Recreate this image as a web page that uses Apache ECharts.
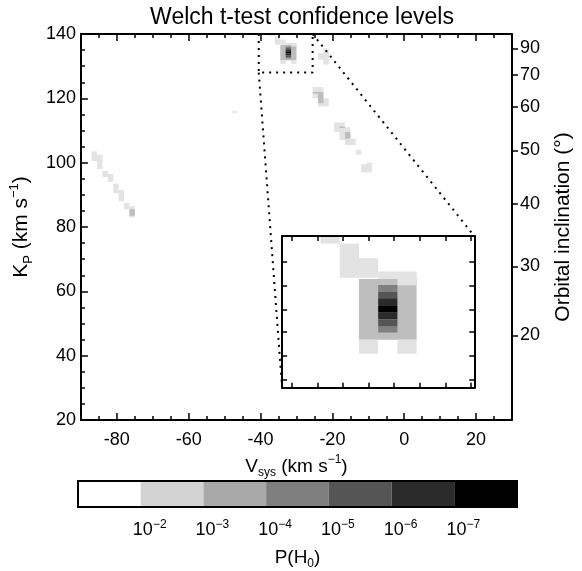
<!DOCTYPE html>
<html><head><meta charset="utf-8">
<script src="https://cdn.jsdelivr.net/npm/echarts@6/dist/echarts.min.js"></script>
<style>html,body{margin:0;padding:0;background:#fff}#c{width:582px;height:571px}</style>
</head><body><div id="c"></div>
<script>
// ---------- data ----------
const vsysMajorTicks = [-80, -60, -40, -20, 0, 20];
const inclinationTicks = [90, 70, 60, 50, 40, 30, 20];
const kpEdgeOn = 135.5;               // Kp at i = 90 deg
// significance blocks: [vsysMin, vsysMax, kpMin, kpMax, level]  (level 1 = 1e-2 ... 6 = 1e-7)
const leftTrackBlocks = [
  [-87, -85.5, 100.5, 103.5, 1],
  [-85.5, -84, 98, 102.5, 1],
  [-84, -82.5, 95.5, 97.5, 1],
  [-82.5, -81, 94, 96.5, 1],
  [-81, -79.5, 90.5, 93.5, 1],
  [-79.5, -78, 88, 91.5, 1],
  [-78, -76.5, 85.5, 87.5, 1],
  [-76.5, -75, 83, 86.5, 1],
  [-76.5, -75, 83.5, 85.5, 2]
];
const isolatedBlocks = [
  [-48, -46.5, 115.5, 116, 1]
];
const peakBlocks = [
  [-37.5, -36, 139.4, 141, 1],
  [-36, -34.5, 136.7, 139.4, 1],
  [-34.5, -33, 136.7, 138.25, 1],
  [-33, -30, 136.1, 137.2, 1],
  [-34.5, -30, 131.8, 136.6, 2],
  [-31.5, -30, 136.1, 136.6, 1],
  [-33, -31.5, 135.6, 136.13, 3],
  [-33, -31.5, 135.08, 135.6, 4],
  [-33, -31.5, 134.47, 135.08, 5],
  [-33, -31.5, 133.94, 134.47, 6],
  [-33, -31.5, 133.42, 133.94, 5],
  [-33, -31.5, 132.84, 133.42, 4],
  [-33, -31.5, 132.37, 132.84, 3],
  [-34.5, -33, 130.7, 131.8, 1],
  [-31.5, -30, 130.7, 131.8, 1]
];
const diagonalBlocks = [
  [-24, -21, 132, 134, 1],
  [-22.5, -21, 130.5, 135.5, 1],
  [-25.5, -22.5, 120, 123.5, 1],
  [-24, -21, 117.5, 120, 1],
  [-24, -22.5, 118.5, 122, 2],
  [-25.5, -24, 121.5, 122, 2],
  [-19.5, -16.5, 109.5, 112.5, 1],
  [-18, -15, 107, 111, 1],
  [-16.5, -13.5, 105.5, 107.5, 1],
  [-16.5, -15, 107.5, 109.5, 2],
  [-18, -16.5, 110.8, 111.2, 2],
  [-13.5, -12, 102.5, 104, 1],
  [-12, -9, 97, 99.5, 1],
  [-10.5, -9, 99.5, 100, 1]
];
const zoomBox = { vsys: [-40.5, -25.5], kp: [128, 140] };
const insetPlacement = { vsys: [-34, 19.5], kp: [30, 77.2] };   // where the inset sits, in main-plot units
const insetVsysTicks = [-39.75, -37.75, -35.75, -33.75, -31.75, -29.75, -27.75, -25.75];
const insetKpTicks = [128.6, 130.5, 132.4, 134.2, 136.1, 138.0];
const pExponents = [-2, -3, -4, -5, -6, -7];
const colorbarGrays = ['#ffffff', '#d3d3d3', '#a9a9a9', '#7f7f7f', '#555555', '#2a2a2a', '#000000'];
const mapGrays = ['#ffffff', '#e3e3e3', '#bdbdbd', '#808080', '#555555', '#2b2b2b', '#000000'];

// ---------- chart ----------
const FONT = 'Liberation Sans, Arial, Helvetica, sans-serif';
const allBlocks = [].concat(leftTrackBlocks, isolatedBlocks, diagonalBlocks, peakBlocks);
const chart = echarts.init(document.getElementById('c'), null, { renderer: 'canvas' });

function richFor(size) {
  const s = Math.round(size * 0.62);
  return {
    n: { fontSize: size, fontFamily: FONT, color: '#000', lineHeight: Math.round(size * 1.3) },
    sub: { fontSize: s, fontFamily: FONT, color: '#000', lineHeight: s, verticalAlign: 'bottom' },
    sup: { fontSize: s, fontFamily: FONT, color: '#000', lineHeight: s, verticalAlign: 'top' }
  };
}

function cellRender(params, api) {
  const a = api.coord([api.value(0), api.value(3)]);
  const b = api.coord([api.value(1), api.value(2)]);
  const cs = params.coordSys;
  const shape = echarts.graphic.clipRectByRect(
    { x: a[0], y: a[1], width: b[0] - a[0], height: b[1] - a[1] },
    { x: cs.x, y: cs.y, width: cs.width, height: cs.height });
  if (!shape) return;
  return { type: 'rect', shape: shape, style: { fill: mapGrays[api.value(4)] } };
}
function colorbarRender(params, api) {
  const a = api.coord([api.value(0), 1]);
  const b = api.coord([api.value(1), 0]);
  return { type: 'rect', shape: { x: a[0], y: a[1], width: b[0] - a[0], height: b[1] - a[1] },
           style: { fill: colorbarGrays[params.dataIndex] } };
}

const lineColor = '#000';
const tickFont = { fontSize: 18, fontFamily: FONT, color: '#000' };
const inclKp = inclinationTicks.map(d => kpEdgeOn * Math.sin(d * Math.PI / 180));
const axLine = { show: true, onZero: false, lineStyle: { color: lineColor, width: 2 } };
const noLine = { show: false, onZero: false };
const dotted = { color: '#000', width: 2, type: [2, 5], cap: 'butt' };

const option = {
  animation: false,
  backgroundColor: '#fff',
  title: {
    text: 'Welch t-test confidence levels', left: 297, top: 1, textAlign: 'center',
    textStyle: { fontSize: 23, fontWeight: 'normal', fontFamily: FONT, color: '#000' }
  },
  grid: [
    { left: 78, top: 34, width: 437, height: 386, show: false },
    { left: 282, top: 236, width: 195, height: 152, show: true, backgroundColor: '#fff', borderWidth: 0, z: 10 },
    { left: 78, top: 481, width: 439, height: 41, show: true, backgroundColor: 'transparent', borderColor: '#000', borderWidth: 2, z: 5 }
  ],
  xAxis: [
    { gridIndex: 0, type: 'value', position: 'bottom', min: -90, max: 30, z: 5,
      axisLine: axLine,
      axisTick: { show: true, inside: true, length: 7, customValues: vsysMajorTicks, lineStyle: { color: lineColor, width: 1.5 } },
      axisLabel: { show: true, customValues: vsysMajorTicks, margin: 11, ...tickFont },
      splitLine: { show: false },
      name: '{n|V}{sub|sys}{n| (km s}{sup|−1}{n|)}', nameLocation: 'middle', nameGap: 26,
      nameTextStyle: { rich: richFor(19) } },
    { gridIndex: 0, type: 'value', position: 'bottom', min: -90, max: 30, interval: 5, z: 5,
      axisLine: noLine, axisLabel: { show: false }, splitLine: { show: false },
      axisTick: { show: true, inside: true, length: 4, lineStyle: { color: lineColor, width: 1.5 } } },
    { gridIndex: 0, type: 'value', position: 'top', min: -90, max: 30, z: 5,
      axisLine: axLine,
      axisTick: { show: true, inside: true, length: 7, customValues: vsysMajorTicks, lineStyle: { color: lineColor, width: 1.5 } },
      axisLabel: { show: false }, splitLine: { show: false } },
    { gridIndex: 0, type: 'value', position: 'top', min: -90, max: 30, interval: 5, z: 5,
      axisLine: noLine, axisLabel: { show: false }, splitLine: { show: false },
      axisTick: { show: true, inside: true, length: 4, lineStyle: { color: lineColor, width: 1.5 } } },
    { gridIndex: 1, type: 'value', position: 'bottom', min: zoomBox.vsys[0], max: zoomBox.vsys[1], z: 11,
      axisLine: axLine,
      axisTick: { show: true, inside: true, length: 5, customValues: insetVsysTicks, lineStyle: { color: lineColor, width: 1.5 } },
      axisLabel: { show: false }, splitLine: { show: false } },
    { gridIndex: 1, type: 'value', position: 'top', min: zoomBox.vsys[0], max: zoomBox.vsys[1], z: 11,
      axisLine: axLine,
      axisTick: { show: true, inside: true, length: 5, customValues: insetVsysTicks, lineStyle: { color: lineColor, width: 1.5 } },
      axisLabel: { show: false }, splitLine: { show: false } },
    { gridIndex: 2, type: 'value', position: 'bottom', min: 0, max: 7,
      axisLine: noLine, axisTick: { show: false }, splitLine: { show: false },
      axisLabel: {
        show: true, customValues: [1, 2, 3, 4, 5, 6], margin: 12,
        formatter: v => '{pad|}{b|10}{s|−' + (-pExponents[Math.round(v) - 1]) + '}',
        rich: {
          pad: { width: 18 },
          b: { fontSize: 18, fontFamily: FONT, color: '#000', lineHeight: 22 },
          s: { fontSize: 12, fontFamily: FONT, color: '#000', lineHeight: 12, verticalAlign: 'top' }
        }
      },
      name: '{n|P(H}{sub|0}{n|)}', nameLocation: 'middle', nameGap: 38,
      nameTextStyle: { rich: richFor(19) } }
  ],
  yAxis: [
    { gridIndex: 0, type: 'value', position: 'left', min: 20, max: 140, interval: 20, z: 5,
      axisLine: axLine,
      axisTick: { show: true, inside: true, length: 7, lineStyle: { color: lineColor, width: 1.5 } },
      minorTick: { show: true, splitNumber: 4, length: 4, lineStyle: { color: lineColor, width: 1.5 } },
      axisLabel: { show: true, margin: 5, ...tickFont },
      splitLine: { show: false },
      name: '{n|K}{sub|P}{n| (km s}{sup|−1}{n|)}', nameLocation: 'middle', nameGap: 40, nameRotate: 90,
      nameTextStyle: { rich: richFor(21) } },
    { gridIndex: 0, type: 'value', position: 'right', min: 20, max: 140, z: 5,
      axisLine: axLine,
      axisTick: { show: true, inside: false, length: 6, customValues: inclKp, lineStyle: { color: lineColor, width: 1.5 } },
      axisLabel: { show: true, customValues: inclKp, margin: 8, ...tickFont,
        formatter: v => { const d = inclinationTicks.find(t => Math.abs(kpEdgeOn * Math.sin(t * Math.PI / 180) - v) < 1e-6); return d === undefined ? '' : String(d); } },
      splitLine: { show: false },
      name: 'Orbital inclination (°)', nameLocation: 'middle', nameGap: 41, nameRotate: 90,
      nameTextStyle: { fontSize: 21, fontFamily: FONT, color: '#000' } },
    { gridIndex: 1, type: 'value', position: 'left', min: zoomBox.kp[0], max: zoomBox.kp[1], z: 11,
      axisLine: axLine,
      axisTick: { show: true, inside: true, length: 5, customValues: insetKpTicks, lineStyle: { color: lineColor, width: 1.5 } },
      axisLabel: { show: false }, splitLine: { show: false } },
    { gridIndex: 1, type: 'value', position: 'right', min: zoomBox.kp[0], max: zoomBox.kp[1], z: 11,
      axisLine: axLine,
      axisTick: { show: true, inside: true, length: 5, customValues: insetKpTicks, lineStyle: { color: lineColor, width: 1.5 } },
      axisLabel: { show: false }, splitLine: { show: false } },
    { gridIndex: 2, type: 'value', min: 0, max: 1, show: false }
  ],
  series: [
    { type: 'custom', name: 'main', xAxisIndex: 0, yAxisIndex: 0, renderItem: cellRender,
      encode: { x: [0, 1], y: [2, 3] }, data: allBlocks, z: 2, silent: true },
    { type: 'line', xAxisIndex: 0, yAxisIndex: 0, symbol: 'none', silent: true, z: 3,
      data: [[zoomBox.vsys[0], zoomBox.kp[1]], [zoomBox.vsys[0], zoomBox.kp[0]], [zoomBox.vsys[1], zoomBox.kp[0]], [zoomBox.vsys[1], zoomBox.kp[1]]],
      lineStyle: dotted },
    { type: 'line', xAxisIndex: 0, yAxisIndex: 0, symbol: 'none', silent: true, z: 3,
      data: [[zoomBox.vsys[0], zoomBox.kp[0]], [insetPlacement.vsys[0], insetPlacement.kp[0]]], lineStyle: dotted },
    { type: 'line', xAxisIndex: 0, yAxisIndex: 0, symbol: 'none', silent: true, z: 3,
      data: [[zoomBox.vsys[1], zoomBox.kp[1]], [insetPlacement.vsys[1], insetPlacement.kp[1]]], lineStyle: dotted },
    { type: 'custom', name: 'inset', xAxisIndex: 4, yAxisIndex: 2, renderItem: cellRender,
      encode: { x: [0, 1], y: [2, 3] }, data: peakBlocks, z: 11, silent: true },
    { type: 'custom', name: 'colorbar', xAxisIndex: 6, yAxisIndex: 4, renderItem: colorbarRender,
      encode: { x: [0, 1] }, data: colorbarGrays.map((c, i) => [i, i + 1]), z: 2, silent: true }
  ]
};
chart.setOption(option);

// place the inset where its corners fall in main-plot units
const tl = chart.convertToPixel({ gridIndex: 0 }, [insetPlacement.vsys[0], insetPlacement.kp[1]]);
const br = chart.convertToPixel({ gridIndex: 0 }, [insetPlacement.vsys[1], insetPlacement.kp[0]]);
chart.setOption({ grid: [{}, { left: tl[0], top: tl[1], width: br[0] - tl[0], height: br[1] - tl[1] }, {}] });
</script></body></html>
